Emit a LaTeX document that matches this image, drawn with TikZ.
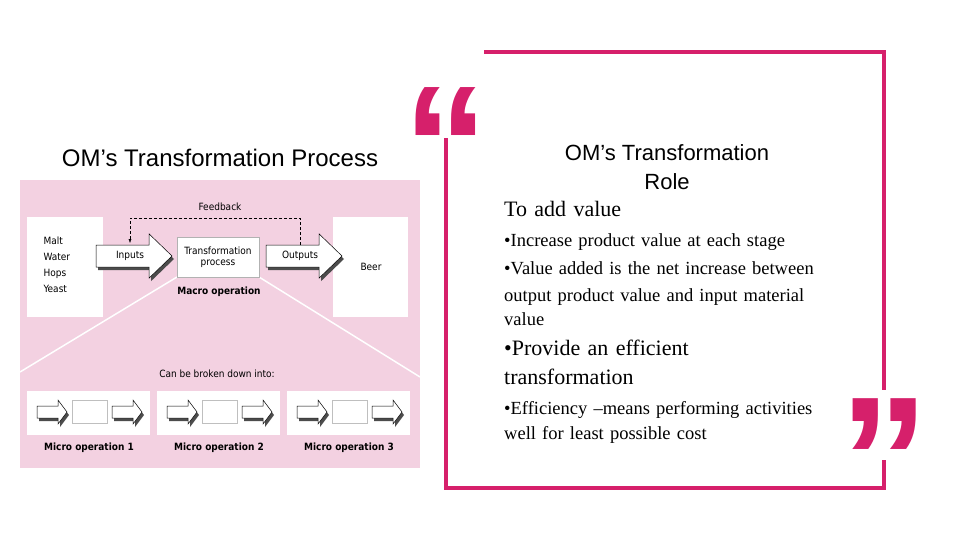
\documentclass[tikz,border=0pt]{standalone}
\usepackage{fontspec}
\setmainfont{Liberation Serif}
\newfontfamily\hv{Liberation Sans}
\newfontfamily\dv{DejaVu Sans Condensed}
\usetikzlibrary{calc,arrows.meta}
\definecolor{qpink}{HTML}{D6206B}
\definecolor{bgpink}{HTML}{F3D1E1}
\newcommand\barrow[5]{% x1 x2 yc bodyhalf headhalf
 \pgfmathsetmacro\ax{#1}\pgfmathsetmacro\bx{#2}
 \pgfmathsetmacro\hx{\bx-0.3*(\bx-\ax)}
 \fill[black!70] ($(\ax,#3-#4)+(2,3)$) -- ($(\hx,#3-#4)+(2,3)$) -- ($(\hx,#3-#5)+(2,3)$) -- ($(\bx,#3)+(2,3)$) -- ($(\hx,#3+#5)+(2,3)$) -- ($(\hx,#3+#4)+(2,3)$) -- ($(\ax,#3+#4)+(2,3)$) -- cycle;
 \draw[fill=white,line width=0.5pt] (\ax,#3-#4) -- (\hx,#3-#4) -- (\hx,#3-#5) -- (\bx,#3) -- (\hx,#3+#5) -- (\hx,#3+#4) -- (\ax,#3+#4) -- cycle;}
\begin{document}
\begin{tikzpicture}[x=1pt,y=-1pt,
 lbl/.style={font=\dv\fontsize{10}{11}\selectfont},
 blbl/.style={font=\dv\bfseries\fontsize{10}{11}\selectfont},
 bul/.style={anchor=north west,align=left,text width=380pt,inner sep=0pt}]
\useasboundingbox (0,0) rectangle (960,540);
\fill[white] (0,0) rectangle (960,540);
\node[font=\hv\fontsize{24}{26}\selectfont] (t1) at (220,158) {OM’s Transformation Process};
\fill[bgpink] (20,180) rectangle (420,468);
\fill[white] (27,217) rectangle (103,317);
\fill[white] (333,217) rectangle (408,317);
\draw[white,line width=1.5pt] (177,277) -- (20,372);
\draw[white,line width=1.5pt] (259,277) -- (420,377);
\node[lbl,anchor=west,align=left] (in) at (40,265) {Malt\\[5pt]Water\\[5pt]Hops\\[5pt]Yeast};
\node[lbl] (beer) at (371,267) {Beer};
\barrow{96}{172}{256}{11}{22}
\barrow{266}{342}{256}{11}{22}
\node[lbl] at (130,256) {Inputs};
\node[lbl] at (300,256) {Outputs};
\node[draw=gray!60,fill=white,minimum width=82pt,minimum height=40pt,inner sep=0pt,align=center,lbl] (tp) at (218,257) {Transformation\\process};
\draw[densely dashed,-{Latex[length=4pt]}] (300,245) -- (300,218) -- (130,218) -- (130,243);
\node[lbl] at (220,207) {Feedback};
\node[blbl] at (219,292) {Macro operation};
\node[lbl] at (217,374) {Can be broken down into:};
\foreach \x/\n in {27/1,157/2,287/3}{
 \fill[white] (\x,391) rectangle (\x+123,435);
 \barrow{\x+10}{\x+40}{412}{6}{12}
 \draw[gray!50,fill=white] (\x+45,400) rectangle (\x+80,423);
 \barrow{\x+85}{\x+115}{412}{6}{12}
 \node[blbl] at (\x+62,448) {Micro operation \n};
}
\draw[qpink,line width=3.5pt] (484,52) -- (884,52) -- (884,390);
\draw[qpink,line width=3.5pt] (884,460) -- (884,488) -- (446,488) -- (446,138);
\node[qpink,font=\hv\bfseries\fontsize{170}{170}\selectfont,inner sep=0pt] (q1) at (446,146) {“};
\node[qpink,font=\hv\bfseries\fontsize{180}{180}\selectfont,inner sep=0pt] (q2) at (884,461) {”};
\node[font=\hv\fontsize{22}{29}\selectfont,align=center] (t2) at (667,167) {OM’s Transformation\\Role};
\node[bul,font=\fontsize{22}{24}\selectfont] at (504,201) {To add value};
\node[bul,font=\fontsize{18.5}{28}\selectfont] at (504,233) {•Increase product value at each stage\\•Value added is the net increase between};
\node[bul,font=\fontsize{18.5}{24}\selectfont] at (504,288) {output product value and input material\\value};
\node[bul,font=\fontsize{22}{29}\selectfont] at (504,340) {•Provide an efficient\\transformation};
\node[bul,font=\fontsize{18.5}{25}\selectfont] at (504,401) {•Efficiency –means performing activities\\well for least possible cost};
\end{tikzpicture}
\end{document}
